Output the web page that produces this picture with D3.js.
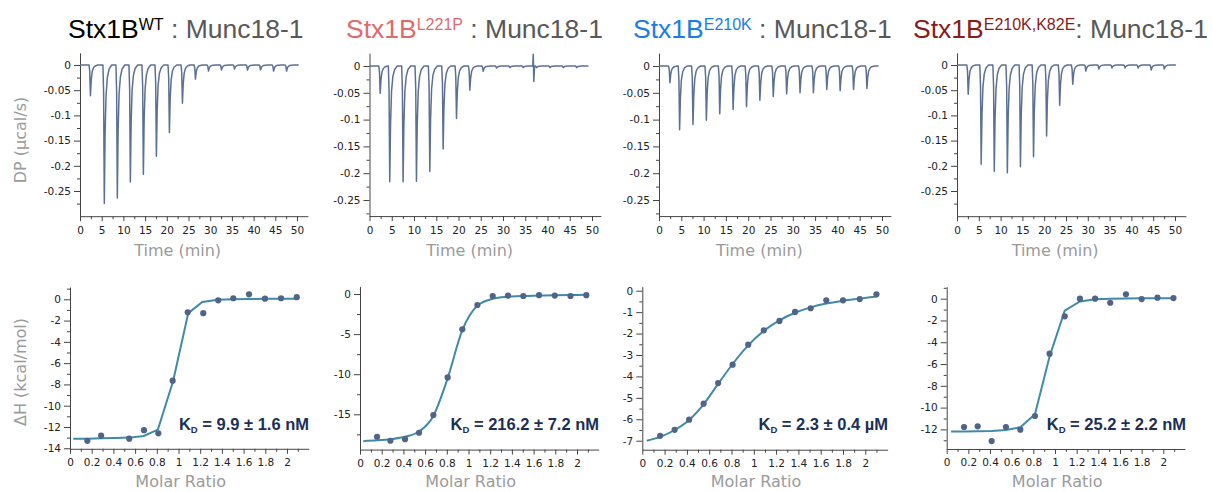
<!DOCTYPE html>
<html>
<head>
<meta charset="utf-8">
<script src="https://cdn.jsdelivr.net/npm/d3@7"></script>
<style>
  body { margin: 0; background: #fff; }
  svg { display: block; }
  .tick text { font-family: "DejaVu Sans", Verdana, sans-serif; font-size: 10.5px; fill: #222; }
  .axis path, .axis line { stroke: #444; }
</style>
</head>
<body>
<svg id="chart" width="1213" height="492"></svg>
<script>
// ---- tick values ----
const timeTicks = [0, 5, 10, 15, 20, 25, 30, 35, 40, 45, 50];
const timeMinor = [2.5, 7.5, 12.5, 17.5, 22.5, 27.5, 32.5, 37.5, 42.5, 47.5];
const dpTicks = [0, -0.05, -0.1, -0.15, -0.2, -0.25];
const dpMinor = [-0.025, -0.075, -0.125, -0.175, -0.225, -0.275];
const ratioTicks = [0, 0.2, 0.4, 0.6, 0.8, 1, 1.2, 1.4, 1.6, 1.8, 2];
const ratioMinor = [0.1, 0.3, 0.5, 0.7, 0.9, 1.1, 1.3, 1.5, 1.7, 1.9, 2.1];

// ---- Stx1B WT ----
const wtTimes = [2.2, 5.4, 8.4, 11.4, 14.4, 17.4, 20.4, 23.4, 26.4, 29.4, 32.4, 35.4, 38.4, 41.4, 44.4, 47.4];
const wtPeaks = [-0.061, -0.275, -0.264, -0.232, -0.217, -0.181, -0.134, -0.076, -0.028, -0.012, -0.01, -0.008, -0.01, -0.01, -0.012, -0.012];
const wtRatio = [0.16, 0.287, 0.546, 0.682, 0.814, 0.946, 1.085, 1.228, 1.366, 1.505, 1.65, 1.797, 1.945, 2.09];
const wtDH = [-13.3, -12.8, -13.1, -12.3, -12.6, -7.65, -1.22, -1.3, -0.1, 0.1, 0.47, 0.06, 0.1, 0.2];
const wtFitRatio = [0.03, 0.16, 0.29, 0.42, 0.55, 0.68, 0.81, 0.95, 1.09, 1.22, 1.36, 1.5, 1.65, 1.8, 1.95, 2.09];
const wtFitDH = [-13.1, -13.1, -13.07, -13.03, -13.0, -12.85, -12.25, -7.7, -1.3, -0.25, -0.05, 0.0, 0.03, 0.04, 0.05, 0.05];
const wtYTicks = [0, -2, -4, -6, -8, -10, -12, -14];
const wtYMinor = [1, -1, -3, -5, -7, -9, -11, -13];

// ---- Stx1B L221P ----
const l221pTimes = [2.2, 4.35, 7.35, 10.35, 13.35, 16.35, 19.35, 22.35, 25.35, 28.35, 31.35, 34.35, 37.35, 40.35, 43.35, 46.35];
const l221pPeaks = [-0.051, -0.216, -0.216, -0.215, -0.197, -0.155, -0.098, -0.045, -0.01, -0.004, -0.003, -0.003, -0.003, -0.003, -0.003, -0.003];
const l221pBlips = [36.8];
const l221pRatio = [0.157, 0.28, 0.415, 0.544, 0.676, 0.808, 0.943, 1.082, 1.223, 1.364, 1.505, 1.65, 1.795, 1.94, 2.086];
const l221pDH = [-17.8, -18.3, -18.1, -17.3, -15.1, -10.4, -4.4, -1.37, -0.25, -0.2, -0.25, -0.15, -0.2, -0.25, -0.15];
const l221pFitRatio = [0.03, 0.157, 0.28, 0.415, 0.544, 0.676, 0.808, 0.943, 1.082, 1.223, 1.364, 1.505, 1.65, 1.795, 1.94, 2.086];
const l221pFitDH = [-18.35, -18.25, -18.1, -17.8, -17.15, -15.2, -10.5, -4.5, -1.45, -0.6, -0.35, -0.25, -0.2, -0.15, -0.12, -0.1];
const l221pYTicks = [0, -5, -10, -15];
const l221pYMinor = [-2.5, -7.5, -12.5, -17.5];

// ---- Stx1B E210K ----
const e210kTimes = [2.25, 4.42, 7.42, 10.42, 13.42, 16.42, 19.42, 22.42, 25.42, 28.42, 31.42, 34.42, 37.42, 40.42, 43.42, 46.42];
const e210kPeaks = [-0.031, -0.119, -0.109, -0.101, -0.089, -0.081, -0.076, -0.064, -0.057, -0.052, -0.05, -0.05, -0.044, -0.046, -0.044, -0.042];
const e210kRatio = [0.16, 0.29, 0.42, 0.55, 0.68, 0.81, 0.95, 1.09, 1.23, 1.37, 1.51, 1.65, 1.8, 1.95, 2.1];
const e210kDH = [-6.77, -6.49, -6.02, -5.27, -4.31, -3.45, -2.52, -1.85, -1.41, -0.99, -0.82, -0.45, -0.45, -0.39, -0.17];
const e210kFitRatio = [0.04, 0.16, 0.29, 0.42, 0.55, 0.68, 0.81, 0.95, 1.09, 1.23, 1.37, 1.51, 1.65, 1.8, 1.95, 2.1];
const e210kFitDH = [-7.0, -6.82, -6.5, -6.03, -5.3, -4.35, -3.42, -2.55, -1.87, -1.38, -1.03, -0.78, -0.6, -0.47, -0.37, -0.27];
const e210kYTicks = [0, -1, -2, -3, -4, -5, -6, -7];
const e210kYMinor = [-0.5, -1.5, -2.5, -3.5, -4.5, -5.5, -6.5];

// ---- Stx1B E210K,K82E ----
const dmTimes = [2.37, 5.35, 8.35, 11.35, 14.35, 17.35, 20.35, 23.35, 26.35, 29.35, 32.35, 35.35, 38.35, 41.35, 44.35, 47.35];
const dmPeaks = [-0.058, -0.197, -0.211, -0.214, -0.202, -0.182, -0.141, -0.08, -0.038, -0.012, -0.008, -0.006, -0.006, -0.006, -0.01, -0.008];
const dmRatio = [0.16, 0.286, 0.415, 0.547, 0.68, 0.815, 0.95, 1.09, 1.23, 1.37, 1.51, 1.655, 1.8, 1.946, 2.094];
const dmDH = [-11.78, -11.72, -13.07, -11.78, -12.03, -10.77, -5.05, -1.62, 0.0, 0.0, -0.37, 0.4, -0.03, 0.09, 0.06];
const dmFitRatio = [0.04, 0.16, 0.286, 0.415, 0.547, 0.68, 0.815, 0.95, 1.09, 1.23, 1.37, 1.51, 1.655, 1.8, 1.946, 2.094];
const dmFitDH = [-12.2, -12.2, -12.18, -12.15, -12.05, -11.8, -10.6, -5.3, -1.1, -0.25, -0.05, 0.0, 0.02, 0.03, 0.04, 0.05];
const dmYTicks = [0, -2, -4, -6, -8, -10, -12];
const dmYMinor = [1, -1, -3, -5, -7, -9, -11, -13];

// injection peak profile: [minutes after injection, fraction of peak depth]
const peakShape = [[-0.12, 0], [0.04, 0.2], [0.2, 1], [0.38, 0.5], [0.6, 0.22], [0.9, 0.09], [1.3, 0.03], [1.9, 0]];
// mechanical blip seen in the L221P trace
const blipShape = [[-0.12, 0], [0, 0.022], [0.12, -0.029], [0.3, 0]];

const traceColor = "#5b7092";
const dotColor = "#4f6488";
const fitColor = "#3f8aa8";
const kdColor = "#1b2f57";

const panels = [
  { name: "Stx1B", color: "#000000", sup: "WT", rest: " : Munc18-1", titleX: 68,
    times: wtTimes, peaks: wtPeaks, blips: [], tEnd: 50.4,
    top: { x0: 80, ppx: 4.34, xMax: 52.5, y0: 65, ppy: 504, yDom: [0.024, -0.3] },
    bot: { x0: 70, ppx: 108.5, xMax: 2.2, y0: 299.3, ppy: 10.64, yDom: [1.15, -14.05] },
    yTicks: wtYTicks, yMinor: wtYMinor,
    ratio: wtRatio, dh: wtDH, fitR: wtFitRatio, fitDH: wtFitDH, curve: d3.curveLinear,
    kd: " = 9.9 ± 1.6 nM", kdX: 309 },
  { name: "Stx1B", color: "#e06a6a", sup: "L221P", rest: " : Munc18-1", titleX: 346,
    times: l221pTimes, peaks: l221pPeaks, blips: l221pBlips, tEnd: 49.2,
    top: { x0: 369.5, ppx: 4.45, xMax: 52, y0: 66, ppy: 536, yDom: [0.024, -0.28] },
    bot: { x0: 360, ppx: 108.5, xMax: 2.2, y0: 294, ppy: 8.02, yDom: [0.95, -19.4] },
    yTicks: l221pYTicks, yMinor: l221pYMinor,
    ratio: l221pRatio, dh: l221pDH, fitR: l221pFitRatio, fitDH: l221pFitDH, curve: d3.curveMonotoneX,
    kd: " = 216.2 ± 7.2 nM", kdX: 599 },
  { name: "Stx1B", color: "#1a7de6", sup: "E210K", rest: " : Munc18-1", titleX: 633,
    times: e210kTimes, peaks: e210kPeaks, blips: [], tEnd: 49.2,
    top: { x0: 659, ppx: 4.46, xMax: 52, y0: 66, ppy: 536, yDom: [0.024, -0.28] },
    bot: { x0: 642.3, ppx: 111.5, xMax: 2.2, y0: 290.7, ppy: 21.43, yDom: [0.19, -7.42] },
    yTicks: e210kYTicks, yMinor: e210kYMinor,
    ratio: e210kRatio, dh: e210kDH, fitR: e210kFitRatio, fitDH: e210kFitDH, curve: d3.curveMonotoneX,
    kd: " = 2.3 ± 0.4 µM", kdX: 888 },
  { name: "Stx1B", color: "#8b1a1a", sup: "E210K,K82E", rest: ": Munc18-1", titleX: 913,
    times: dmTimes, peaks: dmPeaks, blips: [], tEnd: 50.2,
    top: { x0: 957, ppx: 4.36, xMax: 52.5, y0: 65, ppy: 504, yDom: [0.024, -0.3] },
    bot: { x0: 946.7, ppx: 108.3, xMax: 2.2, y0: 298.7, ppy: 10.89, yDom: [1.1, -13.8] },
    yTicks: dmYTicks, yMinor: dmYMinor,
    ratio: dmRatio, dh: dmDH, fitR: dmFitRatio, fitDH: dmFitDH, curve: d3.curveLinear,
    kd: " = 25.2 ± 2.2 nM", kdX: 1186 }
];

const svg = d3.select("#chart");
const fmt = d => String(+d.toFixed(3));

function thermogram(p) {
  const pts = [[0, 0]];
  p.times.forEach((t, i) => peakShape.forEach(([dt, f]) => pts.push([t + dt, p.peaks[i] * f])));
  p.blips.forEach(t => blipShape.forEach(([dt, v]) => pts.push([t + dt, v])));
  pts.push([p.tEnd, 0]);
  return pts.sort((a, b) => a[0] - b[0]);
}

function drawAxes(g, x, y, xTicks, xMinor, yTicks, yMinor) {
  const yr = y.range();
  g.append("g").attr("class", "axis")
    .attr("transform", `translate(0,${yr[1]})`)
    .call(d3.axisBottom(x).tickValues(xTicks).tickSize(5).tickPadding(5).tickSizeOuter(0).tickFormat(fmt));
  g.append("g").attr("class", "axis")
    .attr("transform", `translate(0,${yr[1]})`)
    .call(d3.axisBottom(x).tickValues(xMinor).tickSize(3).tickFormat(""))
    .select(".domain").remove();
  g.append("g").attr("class", "axis")
    .attr("transform", `translate(${x.range()[0]},0)`)
    .call(d3.axisLeft(y).tickValues(yTicks).tickSize(6).tickPadding(3).tickSizeOuter(0).tickFormat(fmt));
  g.append("g").attr("class", "axis")
    .attr("transform", `translate(${x.range()[0]},0)`)
    .call(d3.axisLeft(y).tickValues(yMinor).tickSize(3).tickFormat(""))
    .select(".domain").remove();
}

panels.forEach((p, idx) => {
  // title
  const title = svg.append("text")
    .attr("x", p.titleX).attr("y", 38)
    .style("font-family", "'Liberation Sans', Arial, sans-serif")
    .style("font-size", "26.5px");
  title.append("tspan").attr("fill", p.color).text(p.name);
  title.append("tspan").attr("fill", p.color).attr("dy", -8).style("font-size", "16px").text(p.sup);
  title.append("tspan").attr("fill", "#595959").attr("dy", 8).text(p.rest);

  // thermogram
  const t = p.top;
  const xT = d3.scaleLinear().domain([0, t.xMax]).range([t.x0, t.x0 + t.xMax * t.ppx]);
  const yT = d3.scaleLinear().domain(t.yDom).range([t.y0 - t.yDom[0] * t.ppy, t.y0 - t.yDom[1] * t.ppy]);
  const gT = svg.append("g");
  drawAxes(gT, xT, yT, timeTicks, timeMinor, dpTicks, dpMinor);
  gT.append("path")
    .datum(thermogram(p))
    .attr("d", d3.line().x(d => xT(d[0])).y(d => yT(d[1])))
    .attr("fill", "none")
    .attr("stroke", traceColor)
    .attr("stroke-width", 1.5)
    .attr("stroke-linejoin", "round");
  gT.append("text")
    .attr("x", xT(22.5)).attr("y", 256)
    .attr("text-anchor", "middle")
    .style("font-family", "'DejaVu Sans', Verdana, sans-serif")
    .style("font-size", "16px").attr("fill", "#9a9a9a")
    .text("Time (min)");

  // isotherm
  const b = p.bot;
  const xB = d3.scaleLinear().domain([0, b.xMax]).range([b.x0, b.x0 + b.xMax * b.ppx]);
  const yB = d3.scaleLinear().domain(b.yDom).range([b.y0 - b.yDom[0] * b.ppy, b.y0 - b.yDom[1] * b.ppy]);
  const gB = svg.append("g");
  drawAxes(gB, xB, yB, ratioTicks, ratioMinor, p.yTicks, p.yMinor);
  gB.append("path")
    .datum(p.fitR.map((r, i) => [r, p.fitDH[i]]))
    .attr("d", d3.line().x(d => xB(d[0])).y(d => yB(d[1])).curve(p.curve))
    .attr("fill", "none")
    .attr("stroke", fitColor)
    .attr("stroke-width", 2);
  gB.selectAll(".dot")
    .data(p.ratio.map((r, i) => [r, p.dh[i]]))
    .enter().append("circle")
    .attr("cx", d => xB(d[0])).attr("cy", d => yB(d[1]))
    .attr("r", 3.1)
    .attr("fill", dotColor);
  gB.append("text")
    .attr("x", xB(1.02)).attr("y", 487)
    .attr("text-anchor", "middle")
    .style("font-family", "'DejaVu Sans', Verdana, sans-serif")
    .style("font-size", "16px").attr("fill", "#9a9a9a")
    .text("Molar Ratio");

  const kd = gB.append("text")
    .attr("x", p.kdX).attr("y", 430)
    .attr("text-anchor", "end")
    .style("font-family", "'Liberation Sans', Arial, sans-serif")
    .style("font-weight", "bold")
    .style("font-size", "16.5px")
    .attr("fill", kdColor);
  kd.append("tspan").text("K");
  kd.append("tspan").attr("dy", 3).style("font-size", "9.5px").text("D");
  kd.append("tspan").attr("dy", -3).text(p.kd);

  // y-axis titles only on the first column
  if (idx === 0) {
    svg.append("text")
      .attr("transform", "translate(26,140) rotate(-90)")
      .attr("text-anchor", "middle")
      .style("font-family", "'DejaVu Sans', Verdana, sans-serif")
      .style("font-size", "16px").attr("fill", "#9a9a9a")
      .text("DP (µcal/s)");
    svg.append("text")
      .attr("transform", "translate(26,372) rotate(-90)")
      .attr("text-anchor", "middle")
      .style("font-family", "'DejaVu Sans', Verdana, sans-serif")
      .style("font-size", "16px").attr("fill", "#9a9a9a")
      .text("ΔH (kcal/mol)");
  }
});
</script>
</body>
</html>
